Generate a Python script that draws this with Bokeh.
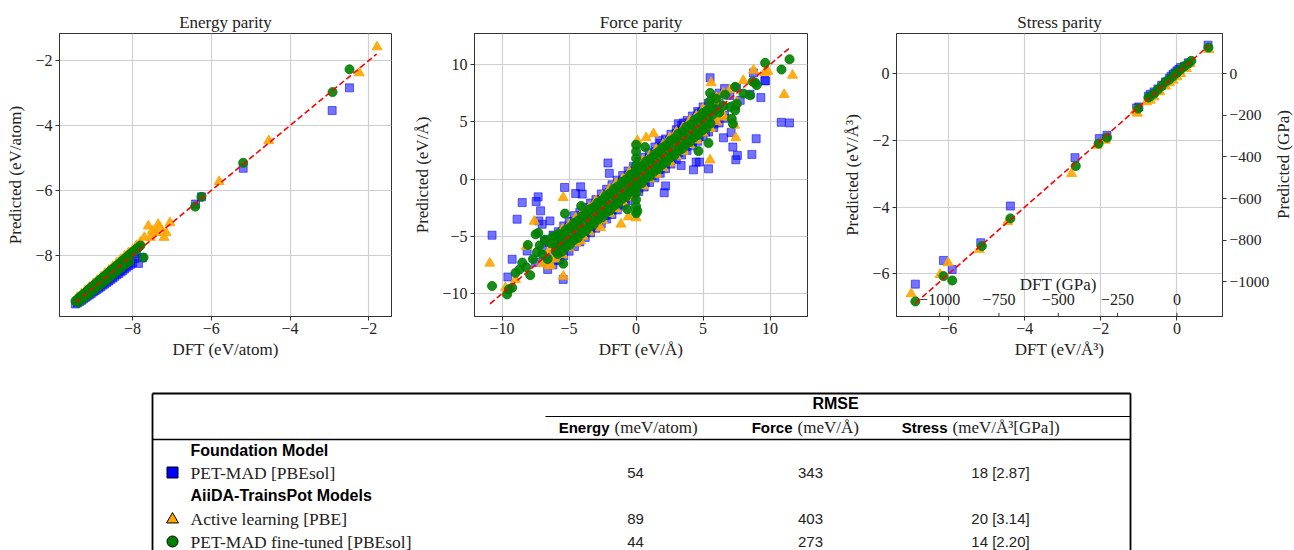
import math
from bokeh.plotting import figure
from bokeh.models import Range1d, FixedTicker, LinearAxis
from bokeh.layouts import column, row
from bokeh.embed import file_html
from bokeh.resources import INLINE
from bokeh.core.properties import value

# ---------------- data ----------------
# Energy parity (eV/atom)
E_blue_x = [-9.45, -9.40, -9.35, -9.30, -9.25, -9.20, -9.15, -9.10, -9.05, -9.00, -8.95, -8.90, -8.85, -8.80,
            -8.75, -8.70, -8.65, -8.60, -8.55, -8.50, -8.45, -8.40, -8.35, -8.30, -8.25, -8.20, -8.15, -8.10,
            -8.05, -8.00, -7.95, -7.85, -7.75, -7.90, -6.40, -6.25, -5.19, -2.93, -2.49]
E_blue_y = [-9.50, -9.47, -9.43, -9.39, -9.35, -9.30, -9.26, -9.22, -9.18, -9.13, -9.09, -9.05, -9.01, -8.96,
            -8.92, -8.88, -8.83, -8.79, -8.74, -8.70, -8.65, -8.60, -8.56, -8.51, -8.47, -8.42, -8.37, -8.32,
            -8.28, -8.23, -8.10, -8.25, -8.08, -7.95, -6.42, -6.20, -5.32, -3.54, -2.84]
E_orange_x = [-9.40, -9.30, -9.20, -9.10, -9.00, -8.90, -8.80, -8.70, -8.60, -8.50, -8.40, -8.30, -8.20, -8.10,
              -8.00, -7.90, -7.80, -7.70, -7.60, -7.55, -7.50, -7.40, -7.35, -7.30, -7.20, -7.15, -7.05,
              -5.80, -4.54, -2.24, -1.79]
E_orange_y = [-9.30, -9.20, -9.09, -8.99, -8.88, -8.78, -8.67, -8.56, -8.46, -8.35, -8.24, -8.13, -8.02, -7.92,
              -7.84, -7.70, -7.60, -7.45, -7.10, -7.45, -7.25, -7.30, -7.05, -7.15, -7.45, -7.30, -7.00,
              -5.73, -4.47, -2.38, -1.58]
E_green_x = [-9.45, -9.40, -9.35, -9.30, -9.25, -9.20, -9.15, -9.10, -9.05, -9.00, -8.95, -8.90, -8.85, -8.80,
             -8.75, -8.70, -8.65, -8.60, -8.55, -8.50, -8.45, -8.40, -8.35, -8.30, -8.25, -8.20, -8.15, -8.10,
             -8.05, -8.00, -7.95, -7.90, -7.85, -7.80, -7.72,
             -9.38, -9.28, -9.18, -9.08, -8.98, -8.88, -8.78, -8.68, -8.58, -8.48, -8.38, -8.28, -8.18, -8.08,
             -6.41, -6.25, -5.19, -2.92, -2.49]
E_green_y = [-9.41, -9.36, -9.30, -9.25, -9.20, -9.15, -9.10, -9.04, -8.99, -8.94, -8.89, -8.84, -8.78, -8.73,
             -8.68, -8.63, -8.58, -8.53, -8.47, -8.42, -8.37, -8.32, -8.27, -8.22, -8.16, -8.11, -8.06, -8.00,
             -7.96, -7.90, -7.86, -7.80, -7.76, -7.70, -8.07,
             -9.46, -9.36, -9.27, -9.17, -9.07, -8.97, -8.87, -8.78, -8.68, -8.58, -8.48, -8.38, -8.28, -8.19,
             -6.50, -6.20, -5.15, -2.97, -2.27]
E_line = [-9.45, -1.80]

# Force parity (eV/Angstrom) -- outliers and main cloud
F_blue_x = [-10.75, -8.88, -8.50, -7.46, -7.31, -7.13, -7.26, -7.01, -6.43, -5.34, -4.14, -4.02, -4.51, -9.25,
            -9.57, -5.44, -8.13, -6.83, -5.69, -2.10, -2.00, 2.10, 2.20,
            5.52, 8.76, 9.66, 9.31, 10.83, 11.45, 8.50, 7.77, 7.09, 6.52, 8.96, 7.22, 7.56, 7.44, 8.64, 5.40,
            4.28, 4.48, 4.73, 3.36, 1.73, 3.15, 3.53, 4.03, 4.65, 4.90, 5.65, 9.60,
            -7.50, -7.00, -6.80, -6.50, -6.20, -6.00, -5.80, -5.50, -5.30, -5.00, -4.80, -4.50, -4.30, -4.00,
            -3.80, -3.50, -3.30, -3.00, -2.80, -2.50, -2.30, -2.00, -1.80, -1.50, -1.30, -1.00, -0.80, -0.50,
            -0.30, 0.00, 0.20, 0.50, 0.70, 1.00, 1.20, 1.50, 1.70, 2.00, 2.20, 2.50, 2.70, 3.00, 3.20, 3.50,
            3.70, 4.00, 4.20, 4.50, 4.70, 5.00, 5.20, 5.50, 5.80, 6.20, 6.60, 7.00, 7.40, 7.50]
F_blue_y = [-4.91, -3.51, -2.06, -1.97, -1.56, -2.78, -3.66, -3.95, -3.66, -0.74, -0.68, -1.32, -1.27, -7.01,
            -8.56, -8.77, -6.29, -5.41, -7.10, 1.40, 0.50, -1.20, -0.60,
            8.84, 9.27, 8.57, 7.11, 4.95, 4.90, 7.40, 6.87, 4.07, 3.60, 3.52, 2.79, 2.06, 1.68, 2.15, 0.89,
            0.80, 1.48, 1.48, 1.18, 3.37, 4.83, 4.90, 4.83, 5.71, 5.86, 6.15, 8.60,
            -7.30, -6.20, -7.20, -5.50, -6.60, -5.20, -6.20, -4.60, -5.90, -4.30, -5.50, -3.80, -5.10, -3.20,
            -4.70, -2.80, -4.20, -2.30, -3.70, -1.80, -3.20, -1.20, -2.70, -0.70, -2.20, -0.20, -1.80, 0.40,
            -1.20, 0.80, -0.80, 1.30, -0.30, 1.80, 0.30, 2.40, 0.80, 2.90, 1.30, 3.40, 1.80, 4.00, 2.30, 4.50,
            2.80, 4.90, 3.20, 5.30, 3.70, 5.60, 4.10, 6.00, 4.80, 6.60, 5.60, 7.30, 6.40, 8.00]
F_blue_band_x = [-6.6, -6.2, -5.8, -5.4, -5.0, -4.6, -4.2, -3.8, -3.4, -3.0, -2.6, -2.2, -1.8, -1.4, -1.0, -0.6,
                 -0.2, 0.2, 0.6, 1.0, 1.4, 1.8, 2.2, 2.6, 3.0, 3.4, 3.8, 4.2, 4.6, 5.0, 5.4, 5.8, 6.2, 6.6]
F_blue_band_up = [-5.3, -4.9, -4.6, -4.1, -3.7, -3.2, -2.9, -2.5, -2.1, -1.8, -1.3, -0.9, -0.5, -0.1, 0.3, 0.7,
                  1.1, 1.5, 1.9, 2.3, 2.8, 3.1, 3.5, 3.9, 4.3, 4.7, 5.1, 5.5, 5.9, 6.3, 6.6, 7.1, 7.5, 7.9]
F_blue_band_lo = [-7.9, -7.5, -7.1, -6.7, -6.3, -5.9, -5.5, -5.1, -4.7, -4.3, -3.9, -3.5, -3.1, -2.7, -2.3, -1.9,
                  -1.5, -1.1, -0.7, -0.3, 0.1, 0.5, 0.9, 1.3, 1.7, 2.1, 2.5, 2.9, 3.3, 3.7, 4.1, 4.5, 4.9, 5.3]

F_orange_x = [-10.92, -5.44, -7.60, -9.75, -5.44, -4.14, -1.13, -0.58, 0.00, -2.65, -8.20, -9.00, -6.40,
              11.67, 11.05, 8.76, 9.83, 5.60, 7.34, 7.44, 5.52, 0.09, 0.75, 1.30, 9.60,
              -7.00, -6.50, -6.00, -5.50, -5.00, -4.50, -4.00, -3.50, -3.00, -2.50, -2.00, -1.50, -1.00, -0.50,
              0.50, 1.00, 1.50, 2.00, 2.50, 3.00, 3.50, 4.00, 4.50, 5.00, 5.50, 6.00, 6.50, 7.00, 7.50, 8.00]
F_orange_y = [-7.36, -1.62, -3.70, -9.50, -8.50, -5.41, -3.95, -3.31, -3.40, -4.25, -5.90, -8.80, -7.50,
              9.06, 7.37, 9.50, 9.41, 8.40, 4.69, 3.60, 1.66, 3.34, 3.60, 3.95, 9.30,
              -7.40, -6.30, -6.70, -5.00, -5.70, -4.00, -4.90, -3.00, -3.90, -1.90, -3.00, -0.90, -2.00, 0.20,
              -0.50, 1.70, 0.60, 2.70, 1.60, 3.80, 2.60, 4.90, 3.60, 5.80, 4.50, 6.80, 5.60, 7.80, 6.70, 8.60]
F_orange_band_x = [-6.5, -6.0, -5.5, -5.0, -4.5, -4.0, -3.5, -3.0, -2.5, -2.0, -1.5, -1.0, -0.5, 0.0, 0.5, 1.0,
                   1.5, 2.0, 2.5, 3.0, 3.5, 4.0, 4.5, 5.0, 5.5, 6.0, 6.5]
F_orange_band_up = [-5.4, -5.0, -4.4, -4.0, -3.4, -2.9, -2.5, -1.9, -1.5, -0.9, -0.4, 0.0, 0.6, 1.0, 1.6, 2.0,
                    2.6, 3.0, 3.6, 4.1, 4.5, 5.1, 5.5, 6.1, 6.5, 7.1, 7.5]
F_orange_band_lo = [-7.6, -7.0, -6.6, -6.0, -5.6, -5.0, -4.6, -4.0, -3.6, -3.0, -2.6, -2.0, -1.6, -1.0, -0.6, 0.0,
                    0.4, 1.0, 1.4, 2.0, 2.4, 3.0, 3.4, 4.0, 4.4, 5.0, 5.4]

F_green_x = [-10.75, -9.63, -9.50, -9.25, -5.44, -8.08, -7.50, -7.30, -5.31, -4.10, -0.66, 0.09,
             9.63, 11.45, 10.85, 7.39, 8.01, 8.51, 5.52, 6.64, 7.52, 7.02, 7.39, 7.14, 7.22, 4.65, 5.40, 0.67,
             8.90, 9.00, 8.70,
             -9.00, -8.70, -8.50, -8.20, -7.90, -7.70, -7.40, -7.20, -7.00, -6.80, -6.60, -6.40, -6.20, -6.00,
             -5.80, -5.60,
             0.00, 0.00, 0.00, 0.00, 0.00, 0.00, 0.00, 0.00, 0.00, 0.00, 0.00,
             6.20, 6.50, 5.50, 6.00]
F_green_y = [-9.35, -10.08, -9.64, -9.50, -7.40, -5.76, -4.83, -4.70, -3.02, -2.35, -2.64, -2.78,
             10.15, 10.46, 9.56, 8.05, 7.46, 7.31, 7.52, 7.37, 6.58, 6.30, 6.00, 5.27, 4.83, 2.44, 3.14, 2.79,
             8.40, 8.20, 8.50,
             -8.20, -7.90, -7.30, -7.70, -8.40, -7.00, -6.40, -5.80, -6.60, -5.30, -7.00, -5.60, -5.00, -6.30,
             -4.80, -5.60,
             -3.00, -2.40, -1.80, -1.20, -0.60, 0.00, 0.60, 1.20, 1.80, 2.40, 3.00,
             5.80, 6.40, 6.80, 7.00]
F_green_mid_x = [-6.0, -5.7, -5.4, -5.1, -4.8, -4.5, -4.2, -3.9, -3.6, -3.3, -3.0, -2.7, -2.4, -2.1, -1.8, -1.5,
                 -1.2, -0.9, -0.6, -0.3, 0.0, 0.3, 0.6, 0.9, 1.2, 1.5, 1.8, 2.1, 2.4, 2.7, 3.0, 3.3, 3.6, 3.9,
                 4.2, 4.5, 4.8, 5.1, 5.4, 5.7, 6.0]
F_green_mid_y = [-5.9, -5.8, -5.3, -5.2, -4.7, -4.6, -4.1, -4.0, -3.5, -3.4, -2.9, -2.8, -2.3, -2.2, -1.7, -1.6,
                 -1.1, -1.0, -0.5, -0.4, 0.1, 0.2, 0.7, 0.8, 1.3, 1.4, 1.9, 2.0, 2.5, 2.6, 3.1, 3.2, 3.7, 3.8,
                 4.3, 4.4, 4.9, 5.0, 5.5, 5.6, 6.1]
F_green_side_x = [-5.85, -5.55, -5.25, -4.95, -4.65, -4.35, -4.05, -3.75, -3.45, -3.15, -2.85, -2.55, -2.25,
                  -1.95, -1.65, -1.35, -1.05, -0.75, -0.45, -0.15, 0.15, 0.45, 0.75, 1.05, 1.35, 1.65, 1.95,
                  2.25, 2.55, 2.85, 3.15, 3.45, 3.75, 4.05, 4.35, 4.65, 4.95, 5.25, 5.55]
F_green_up_y = [-5.05, -4.85, -4.45, -4.25, -3.85, -3.65, -3.25, -3.05, -2.65, -2.45, -2.05, -1.85, -1.45,
                -1.25, -0.85, -0.65, -0.25, -0.05, 0.35, 0.55, 0.95, 1.15, 1.55, 1.75, 2.15, 2.35, 2.75,
                2.95, 3.35, 3.55, 3.95, 4.15, 4.55, 4.75, 5.15, 5.35, 5.75, 5.95, 6.35]
F_green_lo_y = [-6.55, -6.35, -5.95, -5.75, -5.35, -5.15, -4.75, -4.55, -4.15, -3.95, -3.55, -3.35, -2.95,
                -2.75, -2.35, -2.15, -1.75, -1.55, -1.15, -0.95, -0.55, -0.35, 0.05, 0.25, 0.65, 0.85, 1.25,
                1.45, 1.85, 2.05, 2.45, 2.65, 3.05, 3.25, 3.65, 3.85, 4.25, 4.45, 4.85]
F_line = [-10.90, 11.50]

# Stress parity (eV/Angstrom^3)
S_blue_x = [0.82, 0.30, 0.20, 0.10, 0.05, 0.00, -0.05, -0.10, -0.15, -0.20, -0.30, -0.40, -0.50, -0.60, -0.70,
            -0.75, -1.06, -1.00, -2.04, -1.84, -2.68, -4.38, -5.16, -6.14, -5.91, -6.88]
S_blue_y = [0.85, 0.32, 0.22, 0.18, 0.12, 0.08, 0.02, -0.02, -0.08, -0.15, -0.25, -0.35, -0.46, -0.55, -0.62,
            -0.68, -1.03, -1.00, -1.95, -1.85, -2.52, -3.97, -5.07, -5.60, -5.87, -6.31]
S_orange_x = [0.84, 0.35, 0.25, 0.10, 0.00, -0.10, -0.20, -0.30, -0.45, -0.60, -0.70, -0.80, -1.04, -1.10,
              -2.10, -1.88, -2.77, -4.45, -5.20, -6.02, -6.23, -6.99]
S_orange_y = [0.72, 0.30, 0.15, 0.00, -0.10, -0.20, -0.28, -0.38, -0.55, -0.70, -0.80, -0.85, -1.19, -1.12,
              -2.15, -2.00, -3.00, -4.44, -5.27, -5.67, -6.02, -6.60]
S_green_x = [0.83, 0.38, 0.30, 0.20, 0.10, 0.00, -0.05, -0.10, -0.20, -0.30, -0.40, -0.50, -0.60, -0.70, -0.75,
             -1.02, -2.06, -1.84, -2.66, -4.38, -5.13, -6.14, -5.91, -6.88]
S_green_y = [0.78, 0.38, 0.30, 0.22, 0.12, 0.02, 0.00, -0.08, -0.18, -0.25, -0.38, -0.48, -0.60, -0.68, -0.72,
             -1.05, -2.10, -1.92, -2.77, -4.34, -5.17, -6.07, -6.20, -6.83]
S_line = [-6.88, 0.84]
EVA3_TO_GPA = 160.21766

# ticks
E_ticks = [-8, -6, -4, -2]
F_ticks = [-10, -5, 0, 5, 10]
S_ticks = [-6, -4, -2, 0]
S_gpa_y_ticks = [-1000, -800, -600, -400, -200, 0]
S_gpa_x_ticks = [-1000, -750, -500, -250, 0]

# table
rmse_title = "RMSE"
col_names = ["Energy", "Force", "Stress"]
col_units = ["(meV/atom)", "(meV/\u00c5)", "(meV/\u00c5\u00b3[GPa])"]
groups = ["Foundation Model", "AiiDA-TrainsPot Models"]
models = ["PET-MAD [PBEsol]", "Active learning [PBE]", "PET-MAD fine-tuned [PBEsol]"]
energy_rmse = ["54", "89", "44"]
force_rmse = ["343", "403", "273"]
stress_rmse = ["18 [2.87]", "20 [3.14]", "14 [2.20]"]

# ---------------- styling ----------------
SERIF = "Liberation Serif"
SANS = "Liberation Sans"
BLUE, ORANGE, GREEN = "#0000ff", "#ffa500", "#008000"
FRAME = "#333333"
TXT = "#222222"
TOP_H = 378


def minus(t):
    return str(t).replace("-", "\u2212")


def style_axis(ax, ticks, label):
    ax.ticker = FixedTicker(ticks=ticks)
    ax.major_label_overrides = {t: minus(t) for t in ticks}
    ax.axis_label = label
    ax.axis_label_text_font = SERIF
    ax.axis_label_text_font_size = "17px"
    ax.axis_label_text_font_style = "normal"
    ax.axis_label_text_color = TXT
    ax.major_label_text_font = SERIF
    ax.major_label_text_font_size = "16px"
    ax.major_label_text_color = TXT
    ax.major_tick_in = 0
    ax.major_tick_out = 4
    ax.minor_tick_in = 0
    ax.minor_tick_out = 0
    ax.major_label_standoff = 3
    ax.axis_label_standoff = 7
    ax.axis_line_color = FRAME
    ax.major_tick_line_color = FRAME


def make_fig(title, xr, yr, ticks, xlabel, ylabel, width, bl, br):
    p = figure(width=width, height=TOP_H, x_range=Range1d(*xr), y_range=Range1d(*yr),
               output_backend="svg", toolbar_location=None, title=title,
               min_border_left=bl, min_border_right=br, min_border_top=33, min_border_bottom=62)
    p.title.text_font = SERIF
    p.title.text_font_size = "17px"
    p.title.text_font_style = "normal"
    p.title.text_color = TXT
    p.title.align = "center"
    p.title.standoff = 4
    style_axis(p.xaxis[0], ticks, xlabel)
    style_axis(p.yaxis[0], ticks, ylabel)
    p.xaxis[0].major_label_standoff = 2
    p.xaxis[0].axis_label_standoff = 3
    p.grid.grid_line_color = "#cfcfcf"
    p.grid.grid_line_width = 1.2
    p.outline_line_color = FRAME
    p.outline_line_width = 1
    p.background_fill_color = "white"
    return p


def sq(p, x, y):
    p.scatter(x, y, marker="square", size=8, fill_color=BLUE, fill_alpha=0.55,
              line_color=BLUE, line_alpha=0.55)


def tri(p, x, y):
    p.scatter(x, y, marker="triangle", size=10, fill_color=ORANGE, fill_alpha=0.9,
              line_color=ORANGE, line_alpha=0.9)


def circ(p, x, y):
    p.scatter(x, y, marker="circle", size=9, fill_color=GREEN, fill_alpha=0.9,
              line_color=GREEN, line_alpha=0.9)


def parity(p, line):
    p.line(line, line, line_color="#ff0000", line_width=1.6, line_dash="6 3")


E_xr, E_yr = (-9.856, -1.423), (-9.887, -1.165)
F_xr, F_yr = (-12.06, 12.79), (-12.01, 12.71)
S_xr, S_yr = (-7.376, 1.20), (-7.28, 1.20)

p1 = make_fig("Energy parity", E_xr, E_yr, E_ticks, "DFT (eV/atom)", "Predicted (eV/atom)", 408, 59, 17)
sq(p1, E_blue_x, E_blue_y)
tri(p1, E_orange_x, E_orange_y)
circ(p1, E_green_x, E_green_y)
parity(p1, E_line)

p2 = make_fig("Force parity", F_xr, F_yr, F_ticks, "DFT (eV/\u00c5)", "Predicted (eV/\u00c5)", 432, 66, 33)
sq(p2, F_blue_band_x, F_blue_band_up)
sq(p2, F_blue_band_x, F_blue_band_lo)
sq(p2, F_blue_x, F_blue_y)
tri(p2, F_orange_band_x, F_orange_band_up)
tri(p2, F_orange_band_x, F_orange_band_lo)
tri(p2, F_orange_x, F_orange_y)
circ(p2, F_green_side_x, F_green_up_y)
circ(p2, F_green_side_x, F_green_lo_y)
circ(p2, F_green_mid_x, F_green_mid_y)
circ(p2, F_green_x, F_green_y)
parity(p2, F_line)

p3 = make_fig("Stress parity", S_xr, S_yr, S_ticks, "DFT (eV/\u00c5\u00b3)", "Predicted (eV/\u00c5\u00b3)", 432, 50, 50)
p3.extra_y_ranges = {"gpa_y": Range1d(S_yr[0] * EVA3_TO_GPA, S_yr[1] * EVA3_TO_GPA)}
p3.extra_x_ranges = {"gpa_x": Range1d(S_xr[0] * EVA3_TO_GPA, S_xr[1] * EVA3_TO_GPA)}
right_ax = LinearAxis(y_range_name="gpa_y")
style_axis(right_ax, S_gpa_y_ticks, "")
right_ax.axis_label = None
right_ax.major_label_text_font_size = "15.5px"
p3.add_layout(right_ax, "right")

# secondary GPa x-axis (drawn inside the frame, as in the reference)
gpa_lab_y = -6.77
gpa_title_y = -6.32
p3.text(x=S_gpa_x_ticks, y=[gpa_lab_y] * len(S_gpa_x_ticks), text=[minus(t) for t in S_gpa_x_ticks],
        x_range_name="gpa_x", text_align="center", text_baseline="middle",
        text_font=value(SERIF), text_font_size="16px", text_color=TXT)
p3.text(x=[-500], y=[gpa_title_y], text=["DFT (GPa)"], x_range_name="gpa_x", text_align="center",
        text_baseline="middle", text_font=value(SERIF), text_font_size="17px", text_color=TXT)
p3.segment(x0=S_gpa_x_ticks, y0=[S_yr[0]] * len(S_gpa_x_ticks), x1=S_gpa_x_ticks,
           y1=[S_yr[0] + 0.11] * len(S_gpa_x_ticks), x_range_name="gpa_x", line_color=FRAME, line_width=1)
sq(p3, S_blue_x, S_blue_y)
tri(p3, S_orange_x, S_orange_y)
circ(p3, S_green_x, S_green_y)
parity(p3, S_line)

# right-hand axis title of the stress panel (reads bottom-to-top, like the reference)
LW = 22
pl = figure(width=LW, height=TOP_H, x_range=Range1d(0, LW), y_range=Range1d(0, TOP_H),
            output_backend="svg", toolbar_location=None, x_axis_location=None, y_axis_location=None,
            min_border=0)
pl.grid.visible = False
pl.outline_line_color = None
pl.text(x=[11], y=[TOP_H - 175], text=["Predicted (GPa)"], angle=math.pi / 2, text_align="center",
        text_baseline="middle", text_font=value(SERIF), text_font_size="17px", text_color=TXT)

# ---------------- table ----------------
TW, TH = 1294, 172
pt = figure(width=TW, height=TH, x_range=Range1d(0, TW), y_range=Range1d(TH, 0),
            output_backend="svg", toolbar_location=None, x_axis_location=None, y_axis_location=None,
            min_border=0)
pt.grid.visible = False
pt.outline_line_color = None

L, R = 152, 1130
top_y, rmse_line_y, sep_y = 15, 38, 61
pt.segment(x0=[L, L, R], y0=[top_y, top_y, top_y], x1=[R, L, R], y1=[top_y, TH, TH],
           line_color="black", line_width=1.8)
pt.segment(x0=[545], y0=[rmse_line_y], x1=[R], y1=[rmse_line_y], line_color="black", line_width=1.1)
pt.segment(x0=[L], y0=[sep_y], x1=[R], y1=[sep_y], line_color="black", line_width=1.4)

pt.text(x=[835], y=[25], text=[rmse_title], text_align="center", text_baseline="middle",
        text_font=value(SANS), text_font_style="bold", text_font_size="16px", text_color="black")

split_x = [609, 792, 947]
col_x = [635, 810, 1000]
pt.text(x=split_x, y=[49] * 3, text=col_names, text_align="right", text_baseline="middle",
        text_font=value(SANS), text_font_style="bold", text_font_size="15px", text_color="black")
pt.text(x=[s + 5 for s in split_x], y=[49] * 3, text=col_units, text_align="left", text_baseline="middle",
        text_font=value(SERIF), text_font_size="17px", text_color=TXT)

row_y = [72, 94, 117, 140, 163]
text_x = 190
pt.text(x=[text_x, text_x], y=[row_y[0], row_y[2]], text=groups, text_align="left", text_baseline="middle",
        text_font=value(SANS), text_font_style="bold", text_font_size="16px", text_color="black")
model_y = [row_y[1], row_y[3], row_y[4]]
pt.text(x=[text_x] * 3, y=model_y, text=models, text_align="left", text_baseline="middle",
        text_font=value(SERIF), text_font_size="17.5px", text_color=TXT)
for cx, vals in zip(col_x, [energy_rmse, force_rmse, stress_rmse]):
    pt.text(x=[cx] * 3, y=model_y, text=vals, text_align="center", text_baseline="middle",
            text_font=value(SANS), text_font_size="15px", text_color=TXT)

mk_x = 172
pt.scatter([mk_x], [model_y[0]], marker="square", size=11, fill_color=BLUE, line_color="black", line_width=1)
pt.scatter([mk_x], [model_y[1] + 1], marker="triangle", size=12, fill_color=ORANGE, line_color="black", line_width=1)
pt.scatter([mk_x], [model_y[2]], marker="circle", size=11, fill_color=GREEN, line_color="black", line_width=1)

layout = column(row(p1, p2, p3, pl), pt)
open("out.html", "w").write(file_html(layout, INLINE))
